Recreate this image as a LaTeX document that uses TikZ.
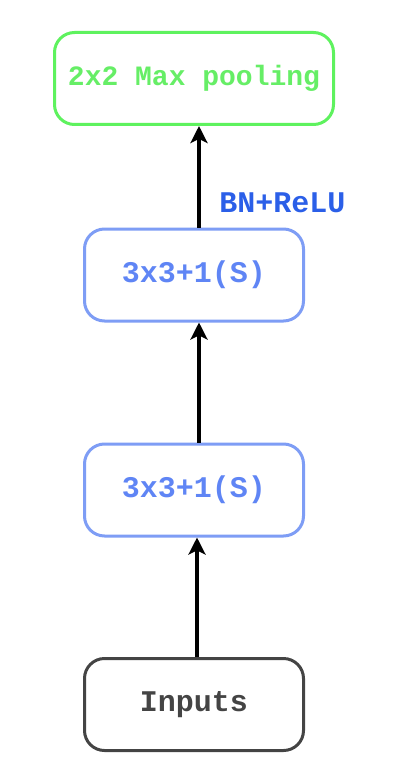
\documentclass[tikz,border=0pt]{standalone}
\usepackage{fontspec}
\setmonofont{Liberation Mono}
\usetikzlibrary{arrows.meta}
\definecolor{gstroke}{HTML}{5EF25E}
\definecolor{gtext}{HTML}{66EE66}
\definecolor{bstroke}{HTML}{7E9DF5}
\definecolor{btext}{HTML}{5F85F5}
\definecolor{lbl}{HTML}{2B5FE8}
\definecolor{gray4}{HTML}{444444}
\tikzset{
  box/.style={draw, line width=3pt, rounded corners=20pt, minimum width=219pt, minimum height=92pt, inner sep=0pt, fill=white},
  conn/.style={line width=3.5pt, -{Stealth[length=17pt,width=17pt,inset=4pt]}},
}
\begin{document}
\begin{tikzpicture}[x=1pt,y=-1pt]
\path[use as bounding box] (0,0) rectangle (400,778);
\node[box, draw=gstroke, minimum width=279pt, text=gtext, font=\ttfamily\bfseries\fontsize{28}{30}\selectfont] (pool) at (194,78.5) {2x2 Max pooling};
\node[box, draw=bstroke, text=btext, font=\ttfamily\bfseries\fontsize{30}{32}\selectfont] (c1) at (194,275) {3x3+1(S)};
\node[box, draw=bstroke, text=btext, font=\ttfamily\bfseries\fontsize{30}{32}\selectfont] (c2) at (194,490) {3x3+1(S)};
\node[box, draw=gray4, text=gray4, font=\ttfamily\bfseries\fontsize{30}{32}\selectfont] (in) at (194,704.5) {Inputs};
\draw[conn] ([xshift=3pt]in.north) -- ([xshift=3pt]c2.south);
\draw[conn] ([xshift=5pt]c2.north) -- ([xshift=5pt]c1.south);
\draw[conn] ([xshift=5pt]c1.north) -- ([xshift=5pt]pool.south);
\node[text=lbl, font=\ttfamily\bfseries\fontsize{30}{32}\selectfont, inner sep=0pt] (bn) at (282.5,203) {BN+ReLU};
\end{tikzpicture}
\end{document}
